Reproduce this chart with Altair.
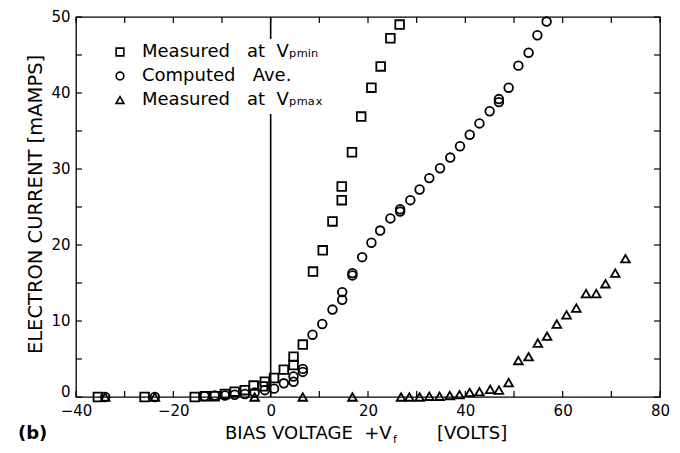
import altair as alt
import pandas as pd

# ---------------- data ----------------
S_MIN = "Measured\u00a0\u00a0\u00a0at\u00a0\u00a0V\u209a\u2098\u1d62\u2099"
S_AVE = "Computed\u00a0\u00a0\u00a0Ave."
S_MAX = "Measured\u00a0\u00a0\u00a0at\u00a0\u00a0V\u209a\u2098\u2090\u2093"
series_names = [S_MIN, S_AVE, S_MAX]
series_shapes = ["square", "circle", "triangle-up"]

vmin_v = [-35.5, -25.9, -15.6, -13.5, -11.5, -9.4, -7.4, -5.3, -3.5, -1.6, -1.2, 0.7, 2.7,
          4.7, 4.7, 6.6, 8.7, 10.7, 12.7, 14.6, 14.6, 16.7, 18.6, 20.7, 22.6, 24.6, 26.5]
vmin_i = [0, 0, 0, 0.1, 0.1, 0.4, 0.7, 0.9, 1.5, 1.4, 2.0, 2.5, 3.6,
          4.2, 5.3, 6.9, 16.5, 19.3, 23.1, 25.9, 27.7, 32.2, 36.9, 40.7, 43.5, 47.2, 49.0]

ave_v = [-34.0, -23.8, -13.6, -11.5, -9.4, -7.4, -5.3, -3.3, -1.2, 0.7, 2.7, 4.7, 4.7, 6.6, 6.6,
         8.6, 10.6, 12.7, 14.7, 14.7, 16.8, 16.8, 18.8, 20.7, 22.5, 24.6, 26.6, 26.6, 28.7,
         30.6, 32.6, 34.8, 36.9, 38.9, 40.9, 42.9, 45.0, 46.9, 46.9, 48.9, 50.9, 53.0, 54.8, 56.7]
ave_i = [0, 0, 0.1, 0.2, 0.2, 0.3, 0.4, 0.6, 0.9, 1.1, 1.8, 2.0, 2.7, 3.3, 3.7,
         8.2, 9.6, 11.5, 12.8, 13.8, 16.0, 16.3, 18.4, 20.3, 21.9, 23.5, 24.4, 24.7, 25.9,
         27.3, 28.8, 30.1, 31.5, 33.0, 34.5, 36.0, 37.6, 38.8, 39.2, 40.7, 43.6, 45.3, 47.6, 49.4]

vmax_v = [-34.0, -23.8, -3.3, 6.6, 16.8, 26.8, 28.5, 30.6, 32.6, 34.7, 36.8, 38.8, 40.9, 42.9,
          45.1, 46.9, 48.9, 50.9, 53.0, 54.9, 56.8, 58.8, 60.8, 62.8, 64.8, 66.9, 68.8, 70.8, 72.9]
vmax_i = [0, 0, 0, 0, 0, 0, 0, 0, 0.1, 0.1, 0.2, 0.3, 0.6, 0.7,
          1.0, 0.9, 1.9, 4.8, 5.3, 7.1, 8.0, 9.6, 10.8, 11.7, 13.6, 13.6, 14.9, 16.3, 18.2]

x_label_vals = [-40, -20, 0, 20, 40, 60, 80]
y_label_vals = [0, 10, 20, 30, 40, 50]
x_tick_vals = [-40, -30, -20, -10, 0, 10, 20, 30, 40, 50, 60, 70, 80]
y_tick_vals = [0, 5, 10, 15, 20, 25, 30, 35, 40, 45, 50]

x_title_main = "BIAS VOLTAGE\u00a0\u00a0+V"
x_title_sub = "f"
x_title_unit = "[VOLTS]"
y_title = "ELECTRON CURRENT [mAMPS]"
panel_label = "(b)"

# ---------------- build ----------------
FONT = "DejaVu Sans"
W, H = 584, 380

df = pd.concat([
    pd.DataFrame({"v": vmin_v, "i": vmin_i, "series": S_MIN}),
    pd.DataFrame({"v": ave_v, "i": ave_i, "series": S_AVE}),
    pd.DataFrame({"v": vmax_v, "i": vmax_i, "series": S_MAX}),
], ignore_index=True)

xscale = alt.Scale(domain=[-40, 80], nice=False, zero=False)
yscale = alt.Scale(domain=[0, 50], nice=False, zero=False)

points = alt.Chart(df).mark_point(
    filled=False, color="black", strokeWidth=1.8, size=75, opacity=1, clip=False
).encode(
    x=alt.X("v:Q", scale=xscale, axis=alt.Axis(
        values=x_label_vals, ticks=False, tickSize=0, domain=False, grid=False,
        labelFont=FONT, labelFontSize=15, labelColor="black", labelPadding=6,
        labelFlush=False, labelOverlap=False, title=None)),
    y=alt.Y("i:Q", scale=yscale, axis=alt.Axis(
        values=y_label_vals, ticks=False, tickSize=0, domain=False, grid=False,
        labelFont=FONT, labelFontSize=15, labelColor="black", labelPadding=6,
        labelOffset=-1, labelFlush=False, labelOverlap=False,
        labelBaseline={"condition": {"test": "datum.value === 0", "value": "alphabetic"},
                       "value": "middle"},
        title=y_title, titleFont=FONT, titleFontSize=19.5, titleFontWeight="normal",
        titleColor="black", titleAngle=270, titleX=-41, titleY=H / 2 - 3,
        titleAlign="center", titleBaseline="middle")),
    shape=alt.Shape("series:N", scale=alt.Scale(domain=series_names, range=series_shapes),
                    legend=alt.Legend(
                        orient="none", legendX=31, legendY=22, title=None,
                        labelFont=FONT, labelFontSize=18, labelColor="black", labelLimit=0,
                        symbolSize=60, symbolStrokeColor="black", symbolStrokeWidth=1.6,
                        symbolFillColor="white", symbolType="square",
                        labelOffset=13, rowPadding=6, padding=4,
                        fillColor="white", strokeColor="white")),
)

zero_line = alt.Chart(pd.DataFrame({"v": [0]})).mark_rule(
    color="black", strokeWidth=1.6
).encode(x=alt.X("v:Q", scale=xscale), y=alt.value(0), y2=alt.value(H))

xt = pd.DataFrame({"v": x_tick_vals})
yt = pd.DataFrame({"i": y_tick_vals})
tick_style = dict(color="black", strokeWidth=1.2)
bottom_ticks = alt.Chart(xt).mark_rule(**tick_style).encode(
    x=alt.X("v:Q", scale=xscale), y=alt.value(H), y2=alt.value(H - 6))
top_ticks = alt.Chart(xt).mark_rule(**tick_style).encode(
    x=alt.X("v:Q", scale=xscale), y=alt.value(0), y2=alt.value(6))
left_ticks = alt.Chart(yt).mark_rule(**tick_style).encode(
    y=alt.Y("i:Q", scale=yscale), x=alt.value(0), x2=alt.value(6))
right_ticks = alt.Chart(yt).mark_rule(**tick_style).encode(
    y=alt.Y("i:Q", scale=yscale), x=alt.value(W), x2=alt.value(W - 6))

def label(txt, x, y, size=18, weight="normal"):
    return alt.Chart(pd.DataFrame({"t": [txt]})).mark_text(
        align="left", baseline="middle", font=FONT, fontSize=size,
        fontWeight=weight, color="black"
    ).encode(text="t:N", x=alt.value(x), y=alt.value(y))

t_main = label(x_title_main, 149, 417)
t_sub = label(x_title_sub, 317, 423, size=11)
t_unit = label(x_title_unit, 361, 417)
t_panel = label(panel_label, -58, 417, weight="bold")

chart = alt.layer(
    zero_line, bottom_ticks, top_ticks, left_ticks, right_ticks, points,
    t_main, t_sub, t_unit, t_panel
).properties(
    width=W, height=H,
    padding={"left": 68, "top": 9, "right": 12, "bottom": 48},
    autosize=alt.AutoSizeParams(type="none"),
    background="white",
).configure_view(stroke="black", strokeWidth=1.3)

chart.save("out.html", embed_options={"renderer": "svg", "actions": False})
